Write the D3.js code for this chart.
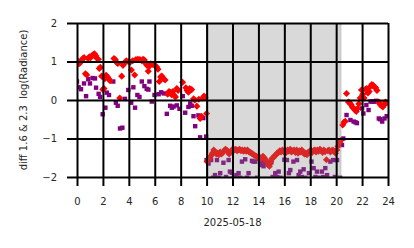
<!DOCTYPE html>
<html>
<head>
<meta charset="utf-8">
<script src="https://cdn.jsdelivr.net/npm/d3@7"></script>
<style>
  body { margin: 0; background: #fff; }
  text { font-family: "DejaVu Sans", sans-serif; fill: #262626; }
</style>
</head>
<body>
<script>
// hours of the day and value pairs
const redSeries = [
  [0.02,0.92],[0.1,1.0],[0.2,0.95],[0.3,1.02],[0.45,1.08],[0.55,1.1],[0.65,0.68],[0.75,0.65],
  [0.85,1.08],[0.95,1.12],[1.05,1.1],[1.15,1.15],[1.25,1.18],[1.35,1.2],[1.45,1.15],[1.55,1.08],
  [1.65,1.06],[1.72,0.82],[1.8,0.85],[1.9,0.62],[2.0,0.27],[2.08,0.3],[2.15,0.55],[2.25,0.64],
  [2.35,0.6],[2.45,0.55],[2.55,0.5],[2.85,1.08],[2.95,1.05],[3.05,0.98],[3.15,0.95],[3.3,0.05],
  [3.45,0.62],[3.55,0.9],[3.65,0.95],[3.8,1.02],[3.95,1.0],[4.1,0.98],[4.2,0.78],[4.3,1.02],
  [4.45,0.65],[4.55,1.05],[4.7,1.06],[4.85,1.05],[5.0,1.02],[5.1,1.06],[5.2,1.04],[5.3,0.95],
  [5.4,0.9],[5.5,0.75],[5.6,0.88],[5.7,0.94],[5.85,0.92],[6.0,0.9],[6.15,0.86],[6.25,0.8],
  [6.35,0.48],[6.45,0.6],[6.55,0.62],[6.65,0.56],[6.8,0.52],[7.0,0.15],[7.1,0.22],[7.2,0.2],
  [7.3,0.14],[7.4,0.22],[7.5,0.12],[7.6,0.08],[7.7,0.3],[7.8,0.25],[8.15,0.46],[8.4,0.32],
  [8.5,0.25],[8.6,0.2],[8.7,0.3],[8.85,0.27],[9.0,0.03],[9.1,0.0],[9.25,-0.16],[9.4,0.02],
  [9.5,-0.48],[9.6,-0.42],[9.7,0.05],[9.8,0.1],[9.9,0.07],[10.0,-0.35],
  [10.05,-1.6],[10.15,-1.55],[10.25,-1.5],[10.35,-1.45],[10.45,-1.38],[10.55,-1.3],[10.65,-1.35],
  [10.75,-1.4],[10.85,-1.38],[10.95,-1.42],[11.05,-1.35],[11.15,-1.4],[11.25,-1.36],[11.35,-1.32],
  [11.45,-1.28],[11.55,-1.3],[11.65,-1.36],[11.75,-1.4],[11.85,-1.35],[11.95,-1.3],[12.05,-1.27],
  [12.15,-1.3],[12.25,-1.28],[12.35,-1.32],[12.45,-1.3],[12.55,-1.28],[12.65,-1.32],[12.75,-1.3],
  [12.85,-1.33],[12.95,-1.3],[13.05,-1.33],[13.15,-1.3],[13.25,-1.34],[13.35,-1.36],[13.45,-1.38],
  [13.55,-1.4],[13.65,-1.42],[13.75,-1.45],[13.85,-1.46],[13.95,-1.5],[14.05,-1.48],[14.15,-1.5],
  [14.25,-1.52],[14.35,-1.46],[14.45,-1.5],[14.55,-1.55],[14.65,-1.6],[14.75,-1.68],[14.85,-1.72],
  [14.95,-1.6],[15.05,-1.52],[15.15,-1.5],[15.25,-1.45],[15.35,-1.42],[15.45,-1.38],[15.55,-1.36],
  [15.65,-1.32],[15.75,-1.35],[15.85,-1.3],[15.95,-1.34],[16.05,-1.3],[16.15,-1.36],[16.25,-1.3],
  [16.35,-1.33],[16.45,-1.28],[16.55,-1.35],[16.65,-1.32],[16.75,-1.3],[16.85,-1.36],[16.95,-1.3],
  [17.05,-1.38],[17.15,-1.32],[17.25,-1.35],[17.35,-1.3],[17.45,-1.36],[17.55,-1.4],[17.65,-1.38],
  [17.75,-1.42],[17.85,-1.36],[17.95,-1.34],[18.05,-1.3],[18.15,-1.36],[18.25,-1.32],[18.35,-1.3],
  [18.45,-1.35],[18.55,-1.3],[18.65,-1.33],[18.75,-1.28],[18.85,-1.32],[18.95,-1.36],[19.05,-1.3],
  [19.15,-1.34],[19.25,-1.55],[19.35,-1.32],[19.45,-1.3],[19.55,-1.35],[19.65,-1.32],[19.75,-1.3],
  [19.85,-1.33],[19.95,-1.38],[20.05,-1.3],[20.15,-1.2],[20.25,-1.1],[20.35,-1.05],
  [20.5,-0.65],[20.6,-0.58],[20.7,-0.55],[20.8,0.17],[20.95,-0.05],[21.05,-0.08],[21.15,-0.12],
  [21.25,-0.18],[21.35,-0.22],[21.45,-0.26],[21.55,-0.3],[21.65,-0.22],[21.75,-0.1],[21.85,0.05],
  [21.95,0.26],[22.05,0.15],[22.15,0.05],[22.25,0.28],[22.35,0.3],[22.45,0.18],[22.55,0.22],
  [22.65,0.35],[22.75,0.4],[22.85,0.38],[22.95,0.34],[23.05,0.32],[23.15,0.25],[23.3,-0.05],
  [23.4,-0.12],[23.5,-0.15],[23.6,-0.18],[23.7,-0.12],[23.8,-0.05],[23.9,-0.08]
];

const purpleSeries = [
  [0.0,0.48],[0.13,0.33],[0.31,0.28],[0.54,0.43],[0.7,0.1],[0.87,0.54],[1.0,0.43],[1.2,0.57],
  [1.39,0.56],[1.47,0.32],[1.67,0.16],[1.78,0.08],[1.98,-0.37],[2.19,-0.2],[2.3,0.19],[2.47,0.13],
  [2.8,0.48],[3.0,-0.07],[3.14,-0.15],[3.32,-0.74],[3.5,-0.72],[3.7,0.03],[3.96,0.26],[4.18,-0.07],
  [4.35,0.33],[4.48,-0.2],[4.66,0.13],[4.82,0.08],[5.0,0.48],[5.2,0.36],[5.38,0.29],[5.51,0.27],
  [5.59,0.48],[5.77,-0.04],[5.98,0.13],[6.3,0.15],[6.5,0.2],[6.7,0.17],[6.93,-0.36],[7.19,-0.15],
  [7.32,-0.2],[7.45,-0.17],[7.7,-0.14],[7.91,-0.23],[8.16,0.1],[8.35,-0.33],[8.6,-0.18],[8.74,-0.09],
  [8.86,-0.15],[8.99,-0.42],[9.12,-0.68],[9.37,-0.4],[9.5,-0.97],[9.63,-0.45],[9.75,-0.47],[9.97,-0.95],
  [10.0,-1.56],[10.15,-1.65],[10.35,-1.56],[10.5,-2.02],[10.65,-1.95],[10.8,-1.56],[10.95,-2.02],
  [11.05,-1.9],[11.3,-1.63],[11.5,-2.0],[11.7,-1.56],[11.8,-1.86],[11.95,-1.89],[12.1,-2.02],
  [12.3,-1.95],[12.47,-1.9],[12.6,-2.02],[12.73,-1.6],[12.98,-1.54],[13.1,-2.02],[13.24,-1.9],
  [13.5,-1.58],[13.62,-1.6],[13.76,-1.6],[13.9,-2.02],[14.14,-1.69],[14.27,-1.6],[14.4,-1.72],
  [14.55,-1.65],[14.9,-1.63],[15.0,-1.62],[15.1,-2.0],[15.3,-1.9],[15.45,-2.0],[15.56,-1.86],
  [15.7,-2.02],[16.0,-1.55],[16.2,-1.56],[16.35,-1.9],[16.46,-1.82],[16.7,-1.6],[16.98,-1.56],
  [17.1,-1.95],[17.23,-1.86],[17.35,-2.0],[17.49,-1.8],[17.6,-2.02],[17.9,-1.9],[18.1,-1.6],
  [18.26,-1.77],[18.4,-2.0],[18.52,-1.86],[18.7,-2.02],[18.9,-1.86],[19.0,-2.0],[19.16,-1.77],
  [19.3,-1.95],[19.55,-1.6],[19.76,-1.56],[19.9,-2.0],[20.07,-1.56],[20.3,-2.02],
  [20.45,-1.17],[20.55,-1.0],[20.8,-0.39],[21.1,-0.52],[21.35,-0.56],[21.5,-0.58],[21.6,-0.6],
  [22.0,-0.22],[22.1,-0.35],[22.33,-0.13],[22.5,-0.26],[22.65,-0.04],[22.77,-0.04],[22.9,-0.04],
  [23.0,-0.04],[23.1,-0.02],[23.29,-0.48],[23.4,-0.5],[23.55,-0.56],[23.73,-0.48],[23.9,-0.42]
];

const nightSpan = [10.1, 20.35];
const xTicks = [0, 2, 4, 6, 8, 10, 12, 14, 16, 18, 20, 22, 24];
const yTicks = [-2, -1, 0, 1, 2];
const dateLabel = "2025-05-18";
const yLabel = "diff 1.6 & 2.3  log(Radiance)";

const W = 414, H = 248;
const plotL = 77, plotR = 388, plotT = 23, plotB = 177;

const svg = d3.select("body")
  .append("svg")
  .attr("width", W)
  .attr("height", H);

const x = d3.scaleLinear().domain([0, 24]).range([plotL, plotR]);
const y = d3.scaleLinear().domain([-2, 2]).range([plotB, plotT]);

svg.append("clipPath")
  .attr("id", "plot-clip")
  .append("rect")
  .attr("x", plotL).attr("y", plotT)
  .attr("width", plotR - plotL).attr("height", plotB - plotT);

const plot = svg.append("g").attr("clip-path", "url(#plot-clip)");

// purple squares first, red diamonds on top
plot.selectAll("rect.p")
  .data(purpleSeries)
  .enter()
  .append("rect")
  .attr("class", "p")
  .attr("x", d => x(d[0]) - 2.2)
  .attr("y", d => y(d[1]) - 2.2)
  .attr("width", 4.4)
  .attr("height", 4.4)
  .attr("fill", "#800080");

const diamond = d3.symbol().type(d3.symbolDiamond2).size(32);
plot.selectAll("path.r")
  .data(redSeries)
  .enter()
  .append("path")
  .attr("class", "r")
  .attr("transform", d => `translate(${x(d[0])},${y(d[1])})`)
  .attr("d", diamond)
  .attr("fill", "#ff0000");

// shaded night span over the points
plot.append("rect")
  .attr("x", x(nightSpan[0]))
  .attr("y", plotT)
  .attr("width", x(nightSpan[1]) - x(nightSpan[0]))
  .attr("height", plotB - plotT)
  .attr("fill", "grey")
  .attr("fill-opacity", 0.3)
  .attr("stroke", "grey")
  .attr("stroke-opacity", 0.25)
  .attr("stroke-width", 2);

// grid + ticks in one line each
const xAxis = svg.append("g")
  .attr("transform", `translate(0,${plotT})`)
  .call(d3.axisBottom(x).tickValues(xTicks).tickSize(plotB - plotT + 9).tickPadding(12).tickFormat(d3.format("d")));

const yAxis = svg.append("g")
  .attr("transform", `translate(${plotR},0)`)
  .call(d3.axisLeft(y).tickValues(yTicks).tickSize(plotR - plotL + 10).tickPadding(10)
    .tickFormat(d => d < 0 ? "\u2212" + Math.abs(d) : d));

[xAxis, yAxis].forEach(g => {
  g.select(".domain").remove();
  g.selectAll(".tick line").attr("stroke", "#000").attr("stroke-width", 2);
  g.selectAll(".tick text").attr("font-size", 10).attr("fill", "#262626")
    .style("font-family", "'DejaVu Sans', sans-serif");
});

svg.append("text")
  .attr("x", (plotL + plotR) / 2)
  .attr("y", 226)
  .attr("text-anchor", "middle")
  .attr("font-size", 10)
  .text(dateLabel);

svg.append("text")
  .attr("transform", `translate(27,${(plotT + plotB) / 2}) rotate(-90)`)
  .attr("text-anchor", "middle")
  .attr("font-size", 10)
  .style("white-space", "pre")
  .text(yLabel);
</script>
</body>
</html>
